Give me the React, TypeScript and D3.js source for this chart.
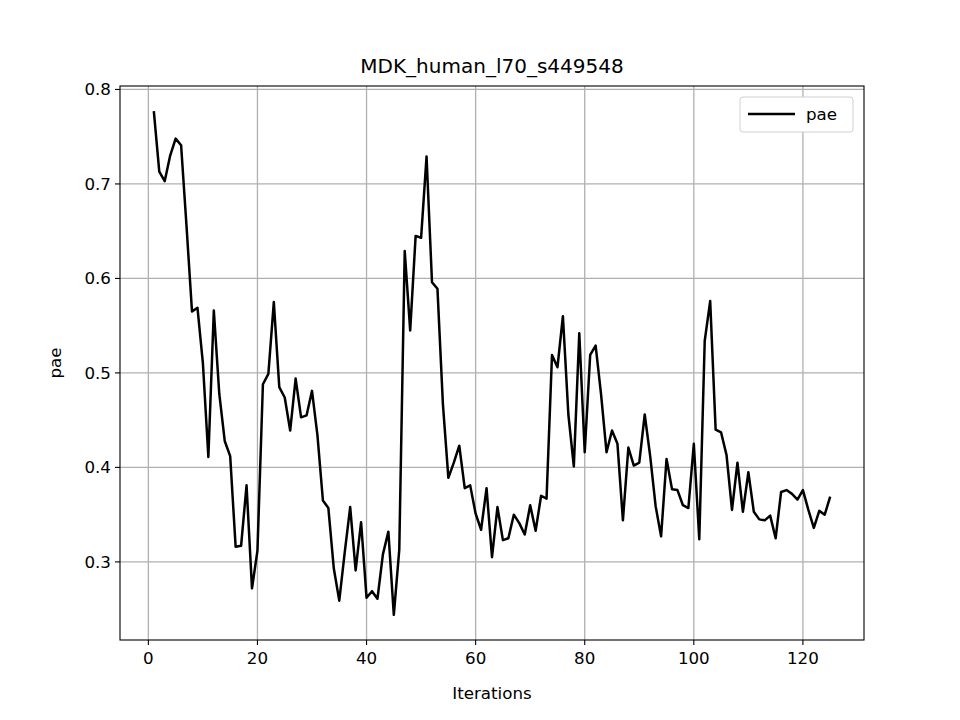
import React from "react";
import * as d3 from "d3";

const title = "MDK_human_l70_s449548";
const seriesName = "pae";
const values = [0.777,0.713,0.703,0.730,0.748,0.741,0.655,0.565,0.569,0.510,0.411,0.566,0.478,0.428,0.412,0.316,0.317,0.381,0.272,0.312,0.488,0.499,0.575,0.485,0.474,0.439,0.494,0.453,0.455,0.481,0.434,0.365,0.357,0.293,0.259,0.310,0.358,0.291,0.342,0.262,0.269,0.261,0.308,0.332,0.244,0.313,0.629,0.545,0.645,0.643,0.729,0.596,0.589,0.467,0.389,0.405,0.423,0.378,0.381,0.351,0.334,0.378,0.305,0.358,0.323,0.325,0.350,0.341,0.329,0.360,0.333,0.370,0.367,0.519,0.506,0.560,0.456,0.401,0.542,0.416,0.519,0.529,0.477,0.416,0.439,0.425,0.344,0.421,0.402,0.405,0.456,0.412,0.359,0.327,0.409,0.377,0.376,0.360,0.357,0.425,0.324,0.534,0.576,0.440,0.437,0.413,0.355,0.405,0.353,0.395,0.353,0.345,0.344,0.349,0.325,0.374,0.376,0.372,0.366,0.376,0.355,0.336,0.354,0.350,0.369];
const xTicks = [0,20,40,60,80,100,120];
const yTicks = [0.3,0.4,0.5,0.6,0.7,0.8];

export default function App() {
  const L = 120, R = 864, T = 86, B = 640;
  const n = values.length;
  const xpad = (n - 1) * 0.05;
  const x = d3.scaleLinear().domain([1 - xpad, n + xpad]).range([L, R]);
  const ymin = d3.min(values)!, ymax = d3.max(values)!;
  const ypad = (ymax - ymin) * 0.05;
  const y = d3.scaleLinear().domain([ymin - ypad, ymax + ypad]).range([B, T]);
  const line = d3.line<number>().x((_, i) => x(i + 1)).y(d => y(d));
  const font = "DejaVu Sans, sans-serif";
  const fs = 16.7;
  return (
    <svg width={960} height={720} style={{ position: "absolute", left: 0, top: 0 }} fontFamily={font}>
      <rect width={960} height={720} fill="#fff" />
      {xTicks.map(t => (
        <g key={"x" + t}>
          <line x1={x(t)} x2={x(t)} y1={T} y2={B} stroke="#b0b0b0" strokeWidth={1.3} />
          <line x1={x(t)} x2={x(t)} y1={B} y2={B + 5} stroke="#000" strokeWidth={1.1} />
          <text x={x(t)} y={B + 24} fontSize={fs} textAnchor="middle">{t}</text>
        </g>
      ))}
      {yTicks.map(t => (
        <g key={"y" + t}>
          <line x1={L} x2={R} y1={y(t)} y2={y(t)} stroke="#b0b0b0" strokeWidth={1.3} />
          <line x1={L - 5} x2={L} y1={y(t)} y2={y(t)} stroke="#000" strokeWidth={1.1} />
          <text x={L - 9} y={y(t) + 6} fontSize={fs} textAnchor="end">{t.toFixed(1)}</text>
        </g>
      ))}
      <path d={line(values)!} fill="none" stroke="#000" strokeWidth={2.5} strokeLinejoin="round" />
      <rect x={L} y={T} width={R - L} height={B - T} fill="none" stroke="#000" strokeWidth={1.1} />
      <text x={(L + R) / 2} y={73} fontSize={20} textAnchor="middle">{title}</text>
      <text x={(L + R) / 2} y={699} fontSize={fs} textAnchor="middle">Iterations</text>
      <text transform={`translate(61,${(T + B) / 2}) rotate(-90)`} fontSize={fs} textAnchor="middle">pae</text>
      <rect x={740} y={97} width={113} height={35} rx={3} fill="#fff" stroke="#d0d0d0" />
      <line x1={748} x2={795} y1={114} y2={114} stroke="#000" strokeWidth={2.5} />
      <text x={806} y={120} fontSize={fs}>{seriesName}</text>
    </svg>
  );
}
